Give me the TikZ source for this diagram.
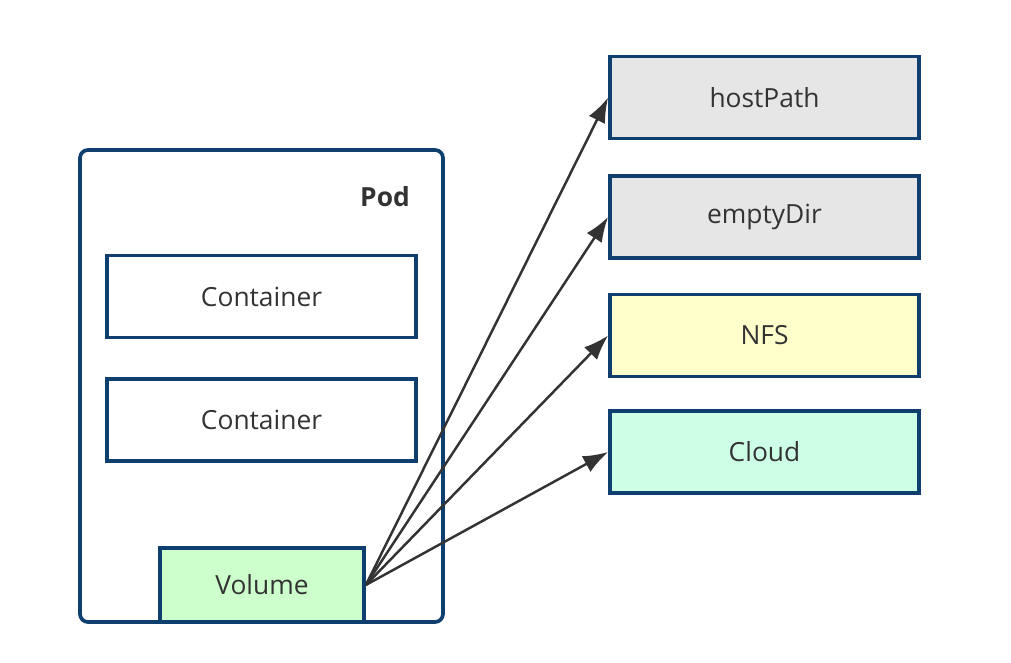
\documentclass[tikz,border=0pt]{standalone}
\usepackage{fontspec}
\setmainfont{Open Sans}
\usetikzlibrary{arrows.meta}

\definecolor{boxline}{HTML}{0F3F6F}
\definecolor{arrowgray}{HTML}{333333}
\definecolor{txtgray}{HTML}{333333}
\definecolor{greyfill}{HTML}{E6E6E6}
\definecolor{nfsfill}{HTML}{FFFFCC}
\definecolor{cloudfill}{HTML}{CCFFE6}
\definecolor{volfill}{HTML}{CCFFCC}

\tikzset{
  box/.style={draw=boxline, line width=2.1pt, minimum width=6.18cm, minimum height=1.64cm,
    text=txtgray, font=\fontsize{15}{18}\selectfont},
  link/.style={draw=arrowgray, line width=1.4pt, -{Latex[length=5mm,width=3.6mm]}}
}

\begin{document}
\begin{tikzpicture}
    \useasboundingbox (0,0) rectangle (20.22,13.26);

    % pod
    \draw[boxline, line width=2.1pt, rounded corners=0.16cm] (1.6,0.82) rectangle (8.86,10.26);
    \node[text=txtgray, font=\fontsize{15}{18}\selectfont\bfseries] (podlabel) at (7.7,9.32) {Pod};

    \node[box] (cont1) at (5.23,7.33) {Container};
    \node[box] (cont2) at (5.23,4.86) {Container};
    \node[box, fill=volfill, minimum width=4.08cm, minimum height=1.48cm] (vol) at (5.24,1.56) {Volume};

    % volume types
    \node[box, fill=greyfill]  (host)  at (15.29,11.31) {hostPath};
    \node[box, fill=greyfill]  (empty) at (15.29,8.92) {emptyDir};
    \node[box, fill=nfsfill]   (nfs)   at (15.29,6.55) {NFS};
    \node[box, fill=cloudfill] (cloud) at (15.29,4.22) {Cloud};

    \draw[link] (vol.east) -- (host.west);
    \draw[link] (vol.east) -- (empty.west);
    \draw[link] (vol.east) -- (nfs.west);
    \draw[link] (vol.east) -- (cloud.west);
  \end{tikzpicture}
\end{document}
